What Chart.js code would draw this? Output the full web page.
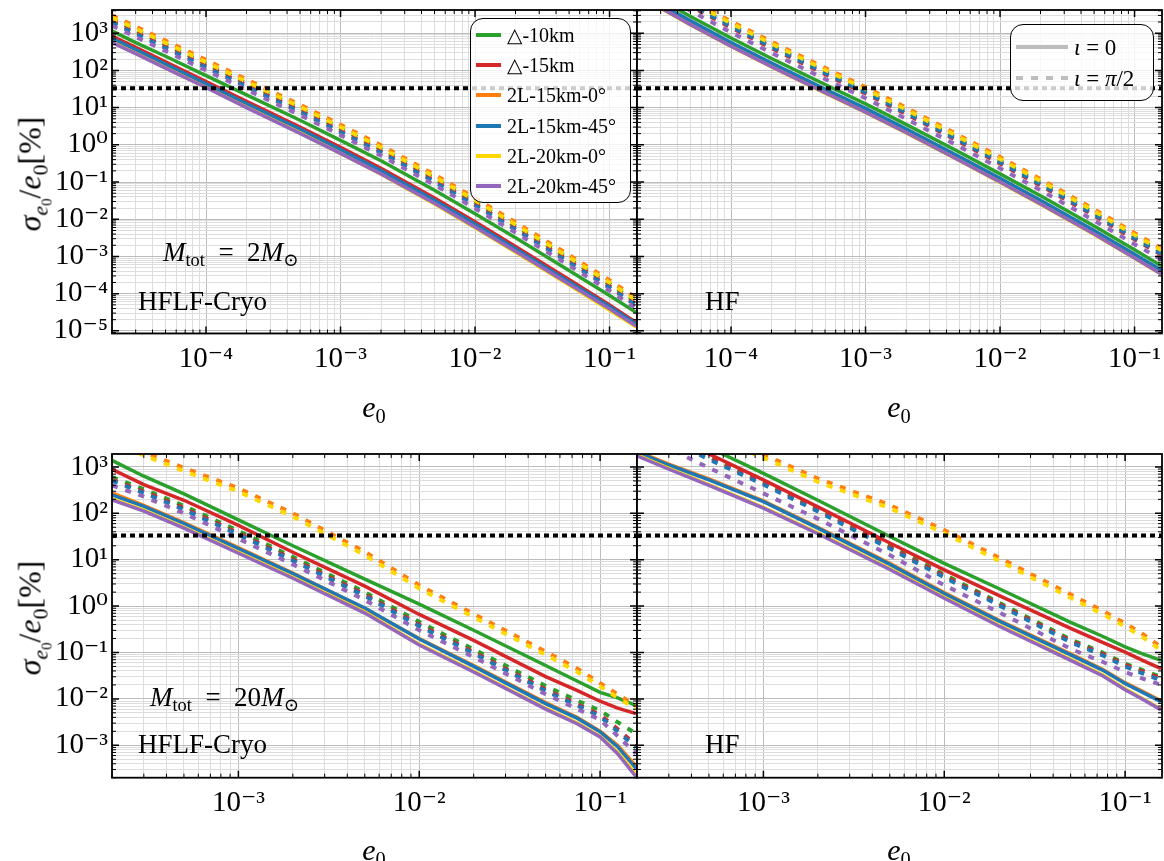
<!DOCTYPE html>
<html>
<head>
<meta charset="utf-8">
<title>sigma_e0 / e0</title>
<script src="https://cdn.jsdelivr.net/npm/chart.js@4.4.1/dist/chart.umd.min.js"></script>
<style>
body { margin: 0; background: #fff; }
#fig { position: relative; width: 1164px; height: 861px; overflow: hidden; }
#fig canvas { position: absolute; left: 0; top: 0; }
.t { position: absolute; font-family: 'Liberation Serif', 'DejaVu Serif', serif; color: #000; white-space: nowrap; line-height: 1; transform: translateY(-50%); }
.t sub { font-size: 0.68em; vertical-align: -0.3em; line-height: 0; }
.ylab { transform: translate(-50%, -50%) rotate(-90deg); font-size: 32px; }
.xlab { transform: translate(-50%, -50%); font-size: 30px; }
.note { font-size: 27px; }
.box { position: absolute; border: 1.6px solid #000; border-radius: 13px; background: rgba(255,255,255,0.8); box-sizing: border-box; z-index: 2; }
.key { position: absolute; height: 4px; transform: translateY(-50%); }
.lt { position: absolute; transform: translateY(-50%); font-family: 'Liberation Serif', 'DejaVu Serif', serif; font-size: 20px; line-height: 1; white-space: nowrap; }
</style>
</head>
<body>
<div id="fig">
  <canvas id="c1" width="1164" height="861"></canvas>
  <canvas id="c2" width="1164" height="861"></canvas>
  <canvas id="c3" width="1164" height="861"></canvas>
  <canvas id="c4" width="1164" height="861"></canvas>

  <div class="t ylab" style="left:30px;top:174px"><i>σ</i><sub><i>e</i><sub>0</sub></sub>/<i>e</i><sub>0</sub>[%]</div>
  <div class="t ylab" style="left:30px;top:618px"><i>σ</i><sub><i>e</i><sub>0</sub></sub>/<i>e</i><sub>0</sub>[%]</div>
  <div class="t xlab" style="left:374px;top:407px"><i>e</i><sub>0</sub></div>
  <div class="t xlab" style="left:899px;top:407px"><i>e</i><sub>0</sub></div>
  <div class="t xlab" style="left:374px;top:850px"><i>e</i><sub>0</sub></div>
  <div class="t xlab" style="left:899px;top:850px"><i>e</i><sub>0</sub></div>

  <div class="t note" style="left:163px;top:252px"><i>M</i><sub>tot</sub> &nbsp;=&nbsp; 2<i>M</i><sub>⊙</sub></div>
  <div class="t note" style="left:138px;top:301px">HFLF-Cryo</div>
  <div class="t note" style="left:705px;top:301px">HF</div>
  <div class="t note" style="left:150px;top:697px"><i>M</i><sub>tot</sub> &nbsp;=&nbsp; 20<i>M</i><sub>⊙</sub></div>
  <div class="t note" style="left:138px;top:744px">HFLF-Cryo</div>
  <div class="t note" style="left:705px;top:744px">HF</div>

  <div class="box" id="leg1" style="left:470px;top:18px;width:161px;height:185px"></div>
  <div class="box" id="leg2" style="left:1010px;top:24px;width:144px;height:77px">
    <div class="key" style="left:5px;top:22px;width:52px;background:#bdbdbd"></div>
    <div class="lt" style="left:63px;top:22px;font-size:23px"><i>ι</i> = 0</div>
    <div class="key" style="left:5px;top:53px;width:52px;background:repeating-linear-gradient(to right,#bdbdbd 0 7px,transparent 7px 15px)"></div>
    <div class="lt" style="left:63px;top:53px;font-size:23px"><i>ι</i> = <i>π</i>/2</div>
  </div>
</div>

<script>
// detector configurations (legend order)
const names = ['△-10km', '△-15km', '2L-15km-0°', '2L-15km-45°', '2L-20km-0°', '2L-20km-45°'];
const colors = ['#2ca02c', '#d62728', '#ff7f0e', '#1f77b4', '#ffd700', '#9467bd'];

// e0 grids
const eTop = [2e-5, 3e-5, 5e-5, 1e-4, 2e-4, 5e-4, 1e-3, 2e-3, 5e-3, 1e-2, 2e-2, 5e-2, 0.1, 0.158];
const eBot = [2e-4, 3e-4, 5e-4, 1e-3, 2e-3, 5e-3, 1e-2, 2e-2, 5e-2, 0.075, 0.1, 0.125, 0.158];

// relative error [%], rows follow names[]
// HFLF-Cryo, Mtot = 2 Msun, iota = 0
const cryo2Face = [
  [1150, 560, 240, 72.4, 21.9, 4.57, 1.32, 0.372, 0.0603, 0.0141, 3.16e-3, 4.17e-4, 8.9e-5, 3.1e-5],
  [832, 417, 170, 50.1, 14.8, 3.02, 0.851, 0.234, 0.0372, 8.5e-3, 1.86e-3, 2.4e-4, 5.0e-5, 1.66e-5],
  [631, 316, 129, 38, 11.2, 2.29, 0.646, 0.178, 0.0282, 6.5e-3, 1.41e-3, 1.86e-4, 4.0e-5, 1.38e-5],
  [724, 363, 148, 43.7, 12.9, 2.63, 0.741, 0.204, 0.0324, 7.4e-3, 1.62e-3, 2.1e-4, 4.5e-5, 1.51e-5],
  [575, 288, 117, 34.7, 10.2, 2.09, 0.589, 0.162, 0.0257, 5.9e-3, 1.29e-3, 1.7e-4, 3.6e-5, 1.26e-5],
  [562, 282, 115, 34.7, 10, 2.04, 0.589, 0.166, 0.0269, 6.2e-3, 1.38e-3, 1.82e-4, 3.9e-5, 1.35e-5]
];
// HFLF-Cryo, Mtot = 2 Msun, iota = pi/2
const cryo2Edge = [
  [2400, 1200, 501, 151, 45.7, 9.55, 2.75, 0.776, 0.126, 0.0295, 6.6e-3, 8.7e-4, 1.82e-4, 6.0e-5],
  [2090, 1050, 437, 132, 39.8, 8.32, 2.4, 0.676, 0.11, 0.0257, 5.75e-3, 7.6e-4, 1.58e-4, 5.2e-5],
  [3020, 1510, 631, 191, 57.5, 12, 3.47, 0.977, 0.158, 0.0372, 8.3e-3, 1.1e-3, 2.29e-4, 7.6e-5],
  [1900, 955, 398, 120, 36.3, 7.59, 2.19, 0.617, 0.1, 0.0234, 5.25e-3, 6.9e-4, 1.45e-4, 4.8e-5],
  [2630, 1320, 550, 166, 50.1, 10.5, 3.02, 0.851, 0.138, 0.0324, 7.2e-3, 9.5e-4, 2.0e-4, 6.6e-5],
  [1585, 794, 331, 100, 30.2, 6.31, 1.82, 0.513, 0.0832, 0.0195, 4.37e-3, 5.75e-4, 1.2e-4, 4.0e-5]
];
// HF, Mtot = 2 Msun, iota = 0
const hf2Face = [
  [17800, 7940, 2820, 741, 209, 41.7, 12.6, 3.55, 0.631, 0.166, 0.0427, 6.6e-3, 1.51e-3, 5.6e-4],
  [12900, 5750, 2040, 537, 151, 30.2, 9.12, 2.57, 0.457, 0.12, 0.0309, 4.8e-3, 1.1e-3, 4.1e-4],
  [11200, 5010, 1780, 468, 132, 26.3, 7.94, 2.24, 0.398, 0.105, 0.0269, 4.2e-3, 9.5e-4, 3.55e-4],
  [13500, 6030, 2140, 562, 158, 31.6, 9.55, 2.69, 0.479, 0.126, 0.0324, 5.0e-3, 1.15e-3, 4.3e-4],
  [10500, 4680, 1660, 437, 123, 24.5, 7.41, 2.09, 0.372, 0.0977, 0.0251, 3.9e-3, 8.9e-4, 3.3e-4],
  [10700, 4790, 1700, 447, 126, 25.1, 7.59, 2.14, 0.38, 0.1, 0.0257, 4.0e-3, 9.1e-4, 3.4e-4]
];
// HF, Mtot = 2 Msun, iota = pi/2
const hf2Edge = [
  [39800, 17800, 6310, 1660, 468, 92.9, 28.2, 7.94, 1.41, 0.372, 0.0955, 0.0148, 3.39e-3, 1.32e-3],
  [33900, 15100, 5370, 1410, 398, 79.1, 24, 6.76, 1.2, 0.316, 0.0811, 0.0126, 2.89e-3, 1.12e-3],
  [50100, 22400, 7940, 2090, 589, 117, 35.5, 10, 1.78, 0.468, 0.12, 0.0186, 4.27e-3, 1.66e-3],
  [36300, 16200, 5750, 1510, 427, 84.7, 25.7, 7.24, 1.29, 0.339, 0.0869, 0.0135, 3.09e-3, 1.2e-3],
  [44700, 20000, 7080, 1860, 525, 104, 31.6, 8.91, 1.58, 0.417, 0.107, 0.0166, 3.8e-3, 1.48e-3],
  [25100, 11200, 3980, 1050, 295, 58.6, 17.8, 5.01, 0.891, 0.234, 0.0601, 9.3e-3, 2.14e-3, 8.3e-4]
];
// HFLF-Cryo, Mtot = 20 Msun, iota = 0
const cryo20Face = [
  [1380, 631, 263, 72.4, 20, 3.8, 1.1, 0.302, 0.0525, 0.024, 0.0138, 0.0105, 7.2e-3],
  [891, 417, 191, 55, 14.5, 2.69, 0.661, 0.182, 0.0302, 0.0151, 8.9e-3, 6.3e-3, 4.8e-3],
  [275, 148, 63.1, 18.2, 5.13, 0.891, 0.2, 0.0525, 8.3e-3, 3.98e-3, 2.0e-3, 1.0e-3, 3.55e-4],
  [251, 141, 60.3, 17.4, 5.01, 0.912, 0.195, 0.0501, 7.9e-3, 3.8e-3, 1.95e-3, 9.3e-4, 3.16e-4],
  [204, 117, 50.1, 14.5, 4.17, 0.741, 0.151, 0.0398, 6.3e-3, 3.0e-3, 1.58e-3, 7.1e-4, 2.4e-4],
  [195, 112, 47.9, 13.8, 3.98, 0.708, 0.145, 0.038, 6.0e-3, 2.88e-3, 1.51e-3, 6.6e-4, 2.1e-4]
];
// HFLF-Cryo, Mtot = 20 Msun, iota = pi/2
const cryo20Edge = [
  [603, 331, 145, 41.7, 11.5, 2.0, 0.457, 0.117, 0.019, 9.1e-3, 5.6e-3, 3.16e-3, 1.78e-3],
  [525, 295, 129, 37.2, 10.2, 1.78, 0.398, 0.102, 0.0158, 7.6e-3, 4.5e-3, 2.24e-3, 1.0e-3],
  [3980, 2090, 955, 347, 100, 14.8, 2.82, 0.676, 0.105, 0.0447, 0.0219, 0.0126, 7.1e-3],
  [501, 275, 120, 34.7, 9.55, 1.66, 0.372, 0.0955, 0.0148, 7.1e-3, 4.2e-3, 2.0e-3, 8.9e-4],
  [3390, 1780, 813, 295, 85.1, 12.6, 2.4, 0.575, 0.0891, 0.038, 0.0186, 0.0107, 6.0e-3],
  [398, 229, 100, 28.2, 7.94, 1.35, 0.302, 0.0794, 0.0126, 6.0e-3, 3.55e-3, 1.58e-3, 6.6e-4]
];
// HF, Mtot = 20 Msun, iota = 0
const hf20Face = [
  [15800, 7080, 2630, 724, 191, 31.6, 8.32, 2.4, 0.447, 0.224, 0.132, 0.0933, 0.0676],
  [11200, 5010, 1910, 525, 138, 22.9, 6.03, 1.7, 0.331, 0.166, 0.102, 0.0676, 0.0447],
  [2190, 1150, 550, 186, 50.1, 8.32, 1.95, 0.501, 0.0933, 0.0437, 0.0224, 0.0145, 9.1e-3],
  [2090, 1100, 525, 178, 47.9, 7.94, 1.86, 0.479, 0.0891, 0.0417, 0.0214, 0.0138, 8.7e-3],
  [1820, 933, 417, 135, 38, 6.46, 1.55, 0.389, 0.0708, 0.0331, 0.0166, 0.0102, 6.0e-3],
  [1740, 891, 398, 129, 36.3, 6.17, 1.48, 0.372, 0.0676, 0.0316, 0.0158, 9.8e-3, 5.8e-3]
];
// HF, Mtot = 20 Msun, iota = pi/2
const hf20Edge = [
  [10000, 4470, 1660, 479, 126, 20, 4.79, 1.2, 0.191, 0.1, 0.0575, 0.0417, 0.0295],
  [9330, 4170, 1550, 447, 117, 18.6, 4.47, 1.12, 0.178, 0.0933, 0.0537, 0.0389, 0.0275],
  [39800, 15800, 5620, 1860, 562, 151, 43.7, 11.2, 1.78, 0.794, 0.427, 0.251, 0.132],
  [8710, 3890, 1450, 417, 110, 17.4, 4.17, 1.05, 0.166, 0.0871, 0.0501, 0.0355, 0.0251],
  [33900, 13500, 4790, 1580, 479, 129, 37.2, 9.55, 1.51, 0.676, 0.363, 0.214, 0.112],
  [5620, 2510, 955, 269, 75.9, 12.6, 2.82, 0.741, 0.12, 0.0631, 0.038, 0.0275, 0.02]
];

// detection threshold [%]
const threshold = 33.3;

// tick labels
const xMajorTop = [1e-4, 1e-3, 1e-2, 1e-1];
const xLabelTop = ['10⁻⁴', '10⁻³', '10⁻²', '10⁻¹'];
const xMajorBot = [1e-3, 1e-2, 1e-1];
const xLabelBot = ['10⁻³', '10⁻²', '10⁻¹'];
const yMajorTop = [1e-5, 1e-4, 1e-3, 1e-2, 1e-1, 1, 10, 100, 1000];
const yLabelTop = ['10⁻⁵', '10⁻⁴', '10⁻³', '10⁻²', '10⁻¹', '10⁰', '10¹', '10²', '10³'];
const yMajorBot = [1e-3, 1e-2, 1e-1, 1, 10, 100, 1000];
const yLabelBot = ['10⁻³', '10⁻²', '10⁻¹', '10⁰', '10¹', '10²', '10³'];

const FONT = "'Liberation Serif', 'DejaVu Serif', serif";
const Y_AXIS_W = 100;   // room kept for y tick labels
const X_AXIS_H = 50;    // room kept for x tick labels

// legend 1
const leg1 = document.getElementById('leg1');
names.forEach((n, i) => {
  const y = 16 + i * 30.2;
  leg1.insertAdjacentHTML('beforeend',
    '<div class="key" style="left:5px;top:' + y + 'px;width:25px;background:' + colors[i] + '"></div>' +
    '<div class="lt" style="left:36px;top:' + y + 'px">' + n + '</div>');
});

function isDecade(v) {
  const l = Math.log10(v);
  return Math.abs(l - Math.round(l)) < 1e-6;
}

// all 1..9 x 10^k ticks inside [min, max]
function logTicks(min, max) {
  const out = [];
  for (let k = Math.floor(Math.log10(min)); k <= Math.ceil(Math.log10(max)); k++) {
    for (let m = 1; m <= 9; m++) {
      const v = m * Math.pow(10, k);
      if (v >= min * 0.9999 && v <= max * 1.0001) out.push({ value: v });
    }
  }
  return out;
}

function labelFor(majors, labels) {
  return function (v) {
    const i = majors.findIndex(m => Math.abs(Math.log10(m) - Math.log10(v)) < 1e-6);
    return i >= 0 ? labels[i] : '';
  };
}

// inward ticks on all four sides plus frame
const framePlugin = {
  id: 'frame',
  afterDatasetsDraw(chart) {
    const { ctx, chartArea: a, scales } = chart;
    ctx.save();
    ctx.strokeStyle = '#000';
    scales.x.ticks.forEach(t => {
      const px = scales.x.getPixelForValue(t.value);
      const major = isDecade(t.value);
      const len = major ? 7 : 4;
      ctx.lineWidth = major ? 1.5 : 1;
      ctx.beginPath();
      ctx.moveTo(px, a.bottom); ctx.lineTo(px, a.bottom - len);
      ctx.moveTo(px, a.top); ctx.lineTo(px, a.top + len);
      ctx.stroke();
    });
    scales.y.ticks.forEach(t => {
      const py = scales.y.getPixelForValue(t.value);
      const major = isDecade(t.value);
      const len = major ? 7 : 4;
      ctx.lineWidth = major ? 1.5 : 1;
      ctx.beginPath();
      ctx.moveTo(a.left, py); ctx.lineTo(a.left + len, py);
      ctx.moveTo(a.right, py); ctx.lineTo(a.right - len, py);
      ctx.stroke();
    });
    ctx.lineWidth = 1.8;
    ctx.strokeRect(a.left, a.top, a.right - a.left, a.bottom - a.top);
    ctx.restore();
  }
};

function lineSet(xs, ys, color, dashed) {
  return {
    data: xs.map((x, i) => ({ x: x, y: ys[i] })),
    borderColor: color,
    borderWidth: dashed ? 4 : 3.5,
    borderDash: dashed ? [6, 8] : [],
    pointRadius: 0,
    tension: 0,
    fill: false,
    clip: 0
  };
}

const panels = [
  { id: 'c1', area: [112, 10, 637, 333.5], e: eTop, face: cryo2Face, edge: cryo2Edge,
    xr: [2e-5, 0.16], yr: [8.5e-6, 4200], xm: xMajorTop, xl: xLabelTop, ym: yMajorTop, yl: yLabelTop, yText: true },
  { id: 'c2', area: [637, 10, 1162, 333.5], e: eTop, face: hf2Face, edge: hf2Edge,
    xr: [2e-5, 0.16], yr: [8.5e-6, 4200], xm: xMajorTop, xl: xLabelTop, ym: yMajorTop, yl: yLabelTop, yText: false },
  { id: 'c3', area: [112, 454, 637, 777.7], e: eBot, face: cryo20Face, edge: cryo20Edge,
    xr: [2e-4, 0.16], yr: [2e-4, 1900], xm: xMajorBot, xl: xLabelBot, ym: yMajorBot, yl: yLabelBot, yText: true },
  { id: 'c4', area: [637, 454, 1162, 777.7], e: eBot, face: hf20Face, edge: hf20Edge,
    xr: [2e-4, 0.16], yr: [2e-4, 1900], xm: xMajorBot, xl: xLabelBot, ym: yMajorBot, yl: yLabelBot, yText: false }
];

const gridColor = c => (c.tick && isDecade(c.tick.value)) ? '#bcbcbc' : '#dddddd';

panels.forEach(p => {
  // bottom to top
  const sets = [];
  names.forEach((n, i) => {
    sets.push(lineSet(p.e, p.face[i], colors[i], false));
    sets.push(lineSet(p.e, p.edge[i], colors[i], true));
  });
  const thr = lineSet(p.xr, [threshold, threshold], '#000', true);
  thr.borderDash = [5, 4];
  thr.borderWidth = 4;
  sets.push(thr);
  sets.reverse();

  const yW = p.yText ? Y_AXIS_W : 0;

  new Chart(document.getElementById(p.id), {
    type: 'line',
    data: { datasets: sets },
    options: {
      responsive: false,
      animation: false,
      events: [],
      layout: { padding: { left: p.area[0] - yW, top: p.area[1], right: 1164 - p.area[2], bottom: 861 - p.area[3] - X_AXIS_H } },
      plugins: { legend: { display: false }, tooltip: { enabled: false } },
      scales: {
        x: {
          type: 'logarithmic',
          min: p.xr[0], max: p.xr[1],
          afterBuildTicks: s => { s.ticks = logTicks(p.xr[0], p.xr[1]); },
          afterFit: s => { s.height = X_AXIS_H; s.paddingLeft = 0; s.paddingRight = 0; },
          border: { display: false },
          grid: { color: gridColor, lineWidth: 1, drawTicks: false },
          ticks: {
            autoSkip: false, maxRotation: 0, minRotation: 0, padding: 8, color: '#000',
            font: { family: FONT, size: 29 },
            callback: labelFor(p.xm, p.xl)
          }
        },
        y: {
          type: 'logarithmic',
          min: p.yr[0], max: p.yr[1],
          afterBuildTicks: s => { s.ticks = logTicks(p.yr[0], p.yr[1]); },
          afterFit: s => { s.width = yW; s.paddingTop = 0; s.paddingBottom = 0; },
          border: { display: false },
          grid: { color: gridColor, lineWidth: 1, drawTicks: false },
          ticks: {
            display: p.yText,
            autoSkip: false, padding: 4, color: '#000',
            font: { family: FONT, size: 29 },
            callback: labelFor(p.ym, p.yl)
          }
        }
      }
    },
    plugins: [framePlugin]
  });
});
</script>
</body>
</html>
